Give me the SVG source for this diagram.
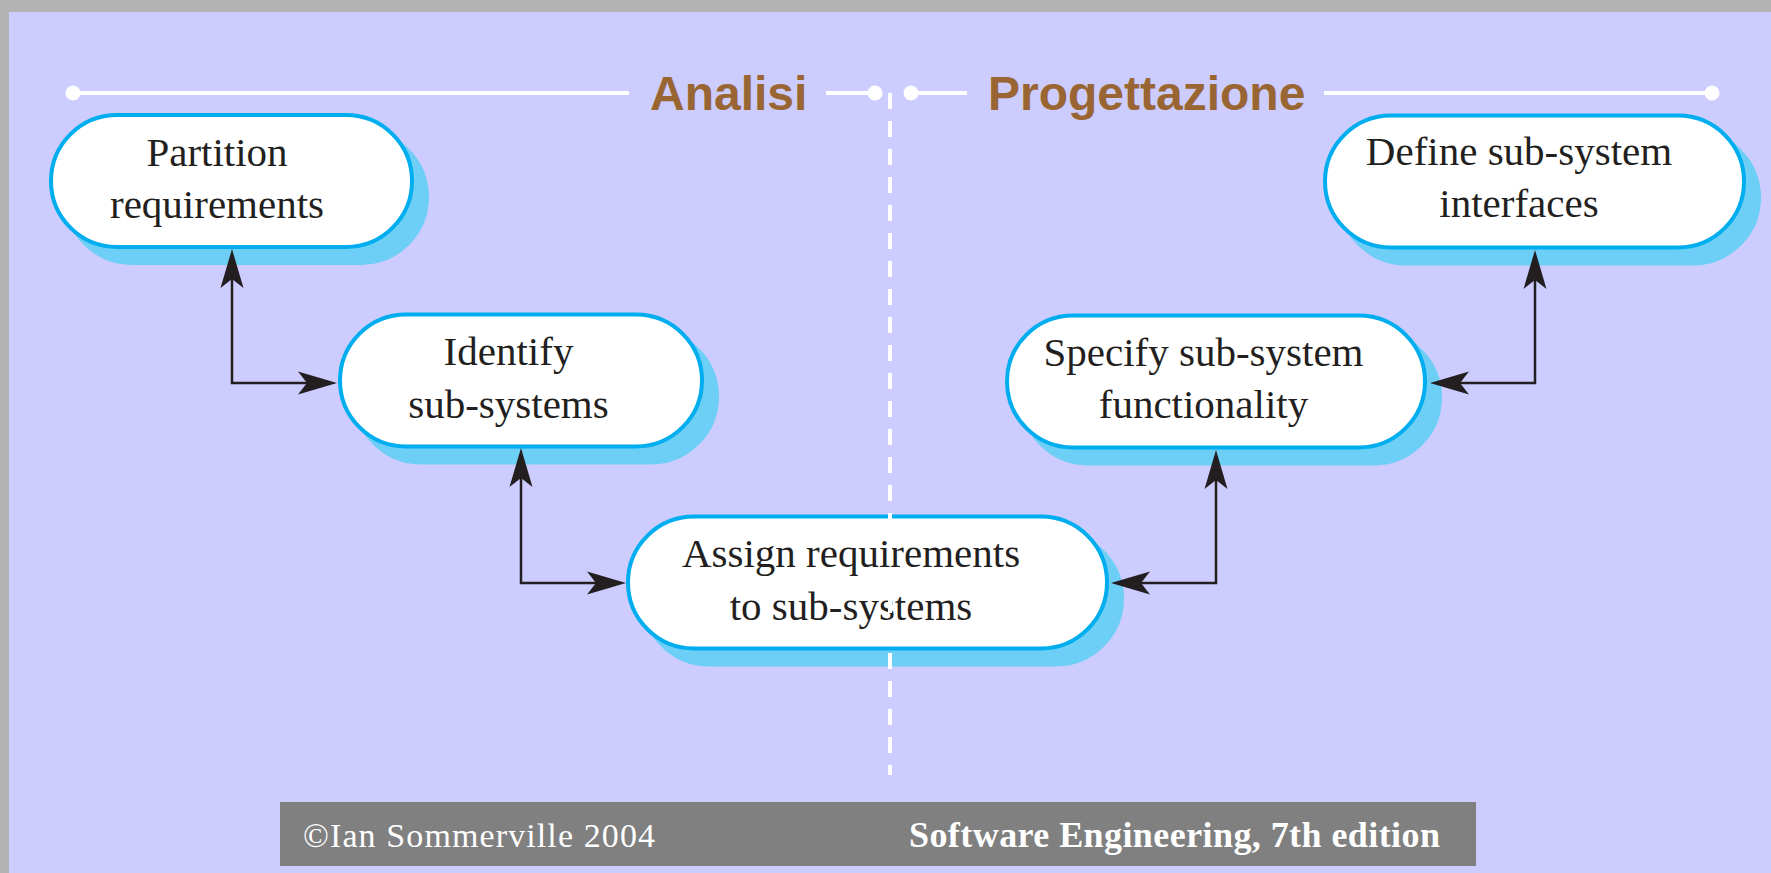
<svg xmlns="http://www.w3.org/2000/svg" width="1771" height="873" viewBox="0 0 1771 873">
<style>
.bg{fill:#CCCCFF}
.shadow{fill:#6DCFF6;stroke:#6DCFF6;stroke-width:4}
.box{fill:#FFFFFF;stroke:#00AEEF;stroke-width:4}
.lbl{font-family:"Liberation Serif","Times New Roman",serif;font-size:41px;fill:#231F20;text-anchor:middle}
.phase{font-family:"Liberation Sans",Arial,sans-serif;font-size:48px;font-weight:bold;fill:#996633}
.rule{stroke:#FFFFFF;stroke-width:4;fill:none}
.dot{fill:#FFFFFF}
.conn{stroke:#231F20;stroke-width:2.5;fill:none;marker-start:url(#arrS);marker-end:url(#arrE)}
.foot{font-family:"Liberation Serif","Times New Roman",serif;fill:#FFFFFF}
</style>
<defs>
<marker id="arrE" markerUnits="userSpaceOnUse" viewBox="-40 -12 41 24" markerWidth="41" markerHeight="24" refX="-26" refY="0" orient="auto">
<path d="M0,0 L-39,-11.5 L-30,0 L-39,11.5 Z" fill="#231F20"/>
</marker>
<marker id="arrS" markerUnits="userSpaceOnUse" viewBox="-1 -12 41 24" markerWidth="41" markerHeight="24" refX="26" refY="0" orient="auto">
<path d="M0,0 L39,-11.5 L30,0 L39,11.5 Z" fill="#231F20"/>
</marker>
</defs>
<rect x="0" y="0" width="1771" height="873" fill="#B3B3B3"/>
<rect class="bg" x="9" y="12" width="1762" height="861"/>

<g id="header">
<line class="rule" x1="73" y1="93" x2="629" y2="93"/>
<circle class="dot" cx="73" cy="93" r="7.5"/>
<text class="phase" x="650" y="110">Analisi</text>
<line class="rule" x1="826" y1="93" x2="875" y2="93"/>
<circle class="dot" cx="875" cy="93" r="7.5"/>
<circle class="dot" cx="911" cy="93" r="7.5"/>
<line class="rule" x1="911" y1="93" x2="967" y2="93"/>
<text class="phase" x="988" y="110">Progettazione</text>
<line class="rule" x1="1324" y1="93" x2="1712" y2="93"/>
<circle class="dot" cx="1712" cy="93" r="7.5"/>
</g>

<g id="partition">
<rect class="shadow" x="66" y="131" width="361" height="132" rx="66"/>
<rect class="box" x="51" y="115" width="361" height="132" rx="66"/>
<text class="lbl" x="217" y="166">Partition</text>
<text class="lbl" x="217" y="218">requirements</text>
</g>

<g id="identify">
<rect class="shadow" x="355" y="330.5" width="362" height="132" rx="66"/>
<rect class="box" x="340" y="314.5" width="362" height="132" rx="66"/>
<text class="lbl" x="508.5" y="365">Identify</text>
<text class="lbl" x="508.5" y="418">sub-systems</text>
</g>

<g id="assign">
<rect class="shadow" x="643" y="532.5" width="479" height="132" rx="66"/>
<rect class="box" x="628" y="516.5" width="479" height="132" rx="66"/>
<text class="lbl" x="851" y="567">Assign requirements</text>
<text class="lbl" x="851" y="620">to sub-systems</text>
</g>

<g id="specify">
<rect class="shadow" x="1022" y="331.5" width="418" height="132" rx="66"/>
<rect class="box" x="1007" y="315.5" width="418" height="132" rx="66"/>
<text class="lbl" x="1203.5" y="366">Specify sub-system</text>
<text class="lbl" x="1203.5" y="418">functionality</text>
</g>

<g id="define">
<rect class="shadow" x="1340" y="131.5" width="419" height="132" rx="66"/>
<rect class="box" x="1325" y="115.5" width="419" height="132" rx="66"/>
<text class="lbl" x="1519" y="165">Define sub-system</text>
<text class="lbl" x="1519" y="217">interfaces</text>
</g>

<g id="connectors">
<path class="conn" d="M232,275 V383 H311"/>
<path class="conn" d="M521,474 V583 H600"/>
<path class="conn" d="M1137,583 H1216 V476"/>
<path class="conn" d="M1456,383 H1535 V276"/>
</g>

<line id="divider" x1="890" y1="93" x2="890" y2="775" stroke="#FFFFFF" stroke-width="4" stroke-dasharray="16 12"/>

<g id="footer">
<rect x="280" y="802" width="1196" height="64" fill="#808080"/>
<text class="foot" x="303" y="847" font-size="34" textLength="352" lengthAdjust="spacing">©Ian Sommerville 2004</text>
<text class="foot" x="909" y="847" font-size="36" font-weight="bold" textLength="531" lengthAdjust="spacing">Software Engineering, 7th edition</text>
</g>
</svg>
